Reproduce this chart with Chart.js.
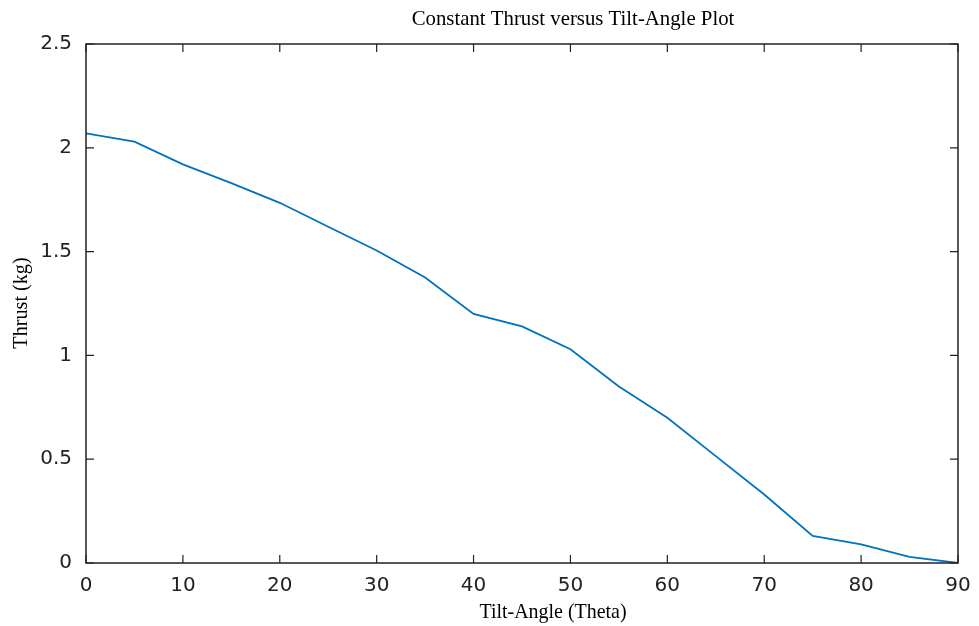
<!DOCTYPE html>
<html>
<head>
<meta charset="utf-8">
<script src="https://cdn.jsdelivr.net/npm/chart.js@4.4.0/dist/chart.umd.min.js"></script>
<style>
  html, body { margin: 0; padding: 0; background: #fff; }
  #wrap { width: 979px; height: 626px; }
</style>
</head>
<body>
<div id="wrap"><canvas id="myChart" width="979" height="626"></canvas></div>
<script>
// tilt angle in degrees
const angles = [0, 5, 10, 15, 20, 25, 30, 35, 40, 45, 50, 55, 60, 65, 70, 75, 80, 85, 90]
// thrust in kg
const thrust = [2.07, 2.03, 1.92, 1.83, 1.735, 1.62, 1.505, 1.375, 1.20, 1.14, 1.03, 0.85, 0.70, 0.515, 0.33, 0.13, 0.09, 0.03, 0.0]
const xTicks = [0, 10, 20, 30, 40, 50, 60, 70, 80, 90]
const yTicks = [0, 0.5, 1, 1.5, 2, 2.5]

const chartTitle = 'Constant Thrust versus Tilt-Angle Plot'
const xTitle = 'Tilt-Angle (Theta)'
const yTitle = 'Thrust (kg)'

const axisColor = '#222'
const sansFont = "'DejaVu Sans', Arial, sans-serif"
const serifFont = "'Liberation Serif', 'Times New Roman', serif"

// serif text, a little narrower than normal like the original export
function narrowText(c, txt, x, y, size, sx, rot) {
  c.save()
  c.translate(x, y)
  if (rot) c.rotate(rot)
  c.scale(sx, 1)
  c.font = size + 'px ' + serifFont
  c.textAlign = 'center'
  c.textBaseline = 'alphabetic'
  c.fillText(txt, 0, 0)
  c.restore()
}

// box round the plot with inward ticks on all four sides, plus titles
const frame = {
  id: 'frame',
  afterDraw(chart) {
    const c = chart.ctx
    const a = chart.chartArea
    const xs = chart.scales.x, ys = chart.scales.y
    const len = 8
    c.save()
    c.strokeStyle = axisColor
    c.lineWidth = 1.5
    c.strokeRect(a.left, a.top, a.right - a.left, a.bottom - a.top)
    c.lineWidth = 1.2
    c.beginPath()
    xTicks.forEach(v => {
      const px = xs.getPixelForValue(v)
      c.moveTo(px, a.bottom); c.lineTo(px, a.bottom - len)
      c.moveTo(px, a.top); c.lineTo(px, a.top + len)
    })
    yTicks.forEach(v => {
      const py = ys.getPixelForValue(v)
      c.moveTo(a.left, py); c.lineTo(a.left + len, py)
      c.moveTo(a.right, py); c.lineTo(a.right - len, py)
    })
    c.stroke()
    c.fillStyle = '#000'
    narrowText(c, chartTitle, 573, 25, 22, 0.945, 0)
    narrowText(c, xTitle, 553, 618, 21, 0.95, 0)
    narrowText(c, yTitle, 27, 303, 21, 0.96, -Math.PI / 2)
    c.restore()
  }
}

var ctx = document.getElementById('myChart').getContext('2d')

var myChart = new Chart(ctx, {
  type: 'line',
  data: {
    datasets: [{
      data: angles.map((a, i) => ({ x: a, y: thrust[i] })),
      borderColor: '#0072BD',
      borderWidth: 1.8,
      pointRadius: 0,
      tension: 0,
      fill: false
    }]
  },
  options: {
    responsive: false,
    animation: false,
    layout: { padding: { top: 44, right: 21, left: 0, bottom: 0 } },
    plugins: { legend: { display: false }, tooltip: { enabled: false }, title: { display: false } },
    scales: {
      x: {
        type: 'linear',
        min: 0, max: 90,
        afterBuildTicks: s => { s.ticks = xTicks.map(v => ({ value: v })) },
        afterFit: s => { s.height = 63; s.paddingLeft = 0; s.paddingRight = 0 },
        grid: { display: false, drawTicks: false },
        border: { display: false },
        ticks: { color: axisColor, font: { family: sansFont, size: 20 }, padding: 11, maxRotation: 0 }
      },
      y: {
        min: 0, max: 2.5,
        afterBuildTicks: s => { s.ticks = yTicks.map(v => ({ value: v })) },
        afterFit: s => { s.width = 86; s.paddingTop = 0; s.paddingBottom = 0 },
        grid: { display: false, drawTicks: false },
        border: { display: false },
        ticks: {
          color: axisColor, font: { family: sansFont, size: 20 }, padding: 14,
          callback: v => String(v)
        }
      }
    }
  },
  plugins: [frame]
})
</script>
</body>
</html>
